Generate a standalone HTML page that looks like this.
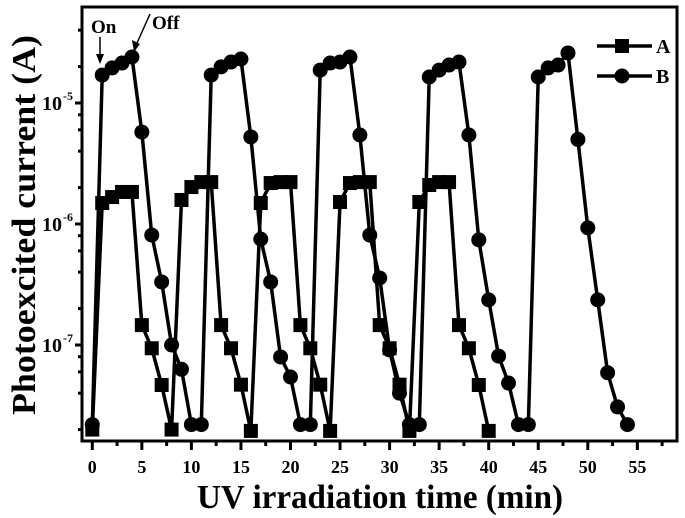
<!DOCTYPE html>
<html><head><meta charset="utf-8"><style>
body{margin:0;background:#fff}
svg{display:block}
text{font-family:"Liberation Serif",serif;font-weight:bold;fill:#000}
</style></head><body>
<svg id="chart" width="685" height="518" viewBox="0 0 685 518" xmlns="http://www.w3.org/2000/svg">
<rect x="82" y="7" width="595" height="434" fill="none" stroke="#000" stroke-width="3"/>
<g id="ticks"></g>
<g id="series"></g>
<text x="380" y="508" font-size="34" text-anchor="middle" textLength="366" lengthAdjust="spacingAndGlyphs">UV irradiation time (min)</text>
<text transform="translate(35,225) rotate(-90)" font-size="34" text-anchor="middle" textLength="380" lengthAdjust="spacingAndGlyphs">Photoexcited current (A)</text>
<g>
<line x1="597" y1="46" x2="652" y2="46" stroke="#000" stroke-width="3.5"/>
<rect x="615" y="39" width="14" height="14" fill="#000"/>
<text x="656" y="53" font-size="20">A</text>
<line x1="597" y1="76" x2="652" y2="76" stroke="#000" stroke-width="3.5"/>
<circle cx="622" cy="76" r="7.5" fill="#000"/>
<text x="656" y="83" font-size="20">B</text>
</g>
<g>
<text x="91" y="33" font-size="19">On</text>
<line x1="100" y1="37" x2="100" y2="58" stroke="#000" stroke-width="1.5"/>
<polygon points="96,54 104,54 100,64" fill="#000"/>
</g>
<g>
<text x="152" y="29" font-size="19">Off</text>
<line x1="150" y1="14" x2="137" y2="43" stroke="#000" stroke-width="1.5"/>
<polygon points="132,40 140,44 134,52" fill="#000"/>
</g>
</svg>
<script>
const timeA = [0,1,2,3,4,5,6,7,8,9,10,11,12,13,14,15,16,17,18,19,20,21,22,23,24,25,26,27,28,29,30,31,32,33,34,35,36,37,38,39,40];
const seriesA = [2.0e-8,1.49e-6,1.67e-6,1.84e-6,1.84e-6,1.46e-7,9.4e-8,4.67e-8,2.0e-8,
1.58e-6,2.02e-6,2.22e-6,2.22e-6,1.46e-7,9.4e-8,4.7e-8,1.95e-8,
1.49e-6,2.18e-6,2.22e-6,2.22e-6,1.46e-7,9.4e-8,4.7e-8,1.95e-8,
1.52e-6,2.18e-6,2.22e-6,2.22e-6,1.46e-7,9.4e-8,4.7e-8,1.95e-8,
1.52e-6,2.1e-6,2.22e-6,2.22e-6,1.46e-7,9.4e-8,4.67e-8,1.95e-8];
const timeB = [0,1,2,3,4,5,6,7,8,9,10,11,12,13,14,15,16,17,18,19,20,21,22,23,24,25,26,27,28,29,30,31,32,33,34,35,36,37,38,39,40,41,42,43,44,45,46,47,48,49,50,51,52,53,54];
const seriesB = [2.2e-8,1.7e-5,1.95e-5,2.14e-5,2.4e-5,5.75e-6,8.1e-7,3.32e-7,1.0e-7,6.3e-8,2.2e-8,2.2e-8,
1.7e-5,1.99e-5,2.18e-5,2.31e-5,5.24e-6,7.5e-7,3.32e-7,7.96e-8,5.44e-8,2.2e-8,2.2e-8,
1.87e-5,2.14e-5,2.18e-5,2.4e-5,5.44e-6,8.1e-7,3.58e-7,9.1e-8,4.0e-8,2.2e-8,2.2e-8,
1.64e-5,1.87e-5,2.06e-5,2.18e-5,5.44e-6,7.4e-7,2.36e-7,8.1e-8,4.85e-8,2.2e-8,2.2e-8,
1.64e-5,1.95e-5,2.06e-5,2.59e-5,5.0e-6,9.3e-7,2.36e-7,5.9e-8,3.08e-8,2.2e-8];
const xTickLabels = [0,5,10,15,20,25,30,35,40,45,50,55];
const yDecadeLabels = [-5,-6,-7];

const NS = "http://www.w3.org/2000/svg";
function xS(t){return 92.3 + t*9.91;}
function yS(v){return 103 - (Math.log10(v)+5)*121;}
function mk(tag, attrs, parent){const e=document.createElementNS(NS,tag);for(const k in attrs)e.setAttribute(k,attrs[k]);parent.appendChild(e);return e;}
const ticks=document.getElementById('ticks');
const series=document.getElementById('series');

xTickLabels.forEach(function(t){
  const l=mk('line',{x1:xS(t),x2:xS(t),y1:441,y2:450,stroke:'#000','stroke-width':3},ticks);
  
  
  const m=mk('line',{x1:xS(t+2.5),x2:xS(t+2.5),y1:441,y2:446,stroke:'#000','stroke-width':3},ticks);
  
  
  const tx=mk('text',{x:xS(t),y:473,'font-size':18,'text-anchor':'middle'},ticks);
  tx.textContent=String(t);
  
  
});
yDecadeLabels.forEach(function(p){
  const y=yS(Math.pow(10,p));
  const l=mk('line',{x1:75,x2:82,y1:y,y2:y,stroke:'#000','stroke-width':3},ticks);
  
  
  const tx=mk('text',{x:62,y:y+7,'font-size':20,'text-anchor':'end'},ticks);
  tx.textContent='10';
  
  
  const sp=mk('text',{x:63,y:y-3,'font-size':12},ticks);
  sp.textContent=String(p);
  
  
});
[-8,-7,-6,-5].forEach(function(p){
  [2,4,6,8].forEach(function(m){
    const y=yS(m*Math.pow(10,p));
    if(y<9||y>439)return;
    const l=mk('line',{x1:78,x2:82,y1:y,y2:y,stroke:'#000','stroke-width':3},ticks);
    
    
  });
});

function drawSeries(ts, vs, kind, name){
  const pts=ts.map(function(t,i){return xS(t)+','+yS(vs[i]);}).join(' ');
  const pl=mk('polyline',{points:pts,fill:'none',stroke:'#000','stroke-width':3.5,'stroke-linejoin':'round'},series);
  
  
  ts.forEach(function(t,i){
    let e;
    if(kind==='square') e=mk('rect',{x:xS(t)-7,y:yS(vs[i])-7,width:14,height:14,fill:'#000'},series);
    else e=mk('circle',{cx:xS(t),cy:yS(vs[i]),r:7.5,fill:'#000'},series);
    
    
  });
}
drawSeries(timeA, seriesA, 'square', 'series-a');
drawSeries(timeB, seriesB, 'circle', 'series-b');
</script>
</body></html>
